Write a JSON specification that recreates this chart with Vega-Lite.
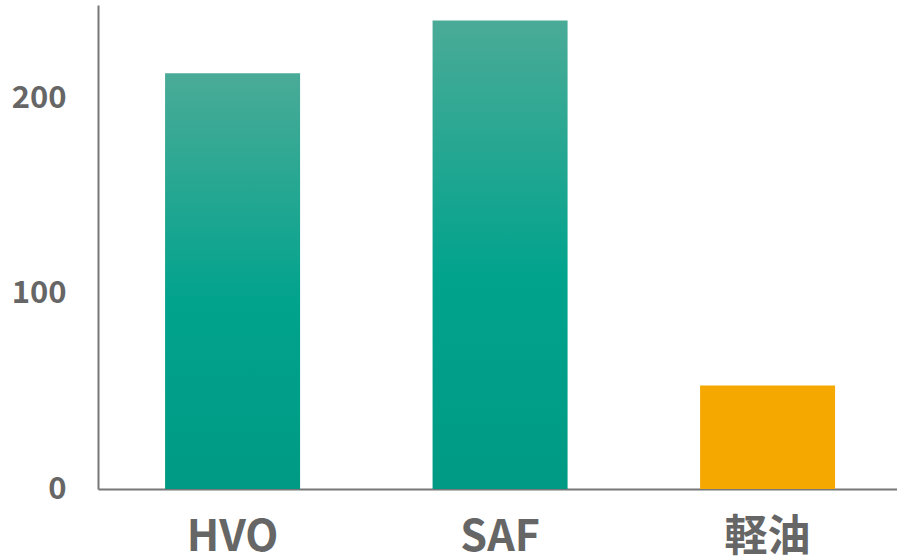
{
  "$schema": "https://vega.github.io/schema/vega-lite/v6.json",
  "autosize": "none",
  "width": 799,
  "height": 484,
  "padding": {"left": 98, "top": 5, "right": 0, "bottom": 70},
  "background": "white",
  "config": {"view": {"stroke": null}},
  "data": {"values": [
    {"fuel": "HVO", "value": 213},
    {"fuel": "SAF", "value": 240},
    {"fuel": "軽油", "value": 53}
  ]},
  "encoding": {
    "x": {
      "field": "fuel", "type": "nominal", "sort": ["HVO", "SAF", "軽油"],
      "scale": {"paddingInner": 0.4953, "paddingOuter": 0.2411, "align": 0.52},
      "axis": {
        "title": null, "labelAngle": 0, "ticks": false, "grid": false,
        "domainColor": "#777777", "domainWidth": 2,
        "labelFont": "Noto Sans CJK JP", "labelFontWeight": "bold", "labelFontSize": 43,
        "labelColor": "#666666", "labelPadding": 27
      }
    },
    "y": {
      "field": "value", "type": "quantitative",
      "scale": {"domain": [0, 248], "nice": false},
      "axis": {
        "title": null, "values": [0, 100, 200], "ticks": false, "grid": false,
        "domainColor": "#777777", "domainWidth": 2,
        "labelFont": "Noto Sans CJK JP", "labelFontWeight": "bold", "labelFontSize": 31,
        "labelColor": "#666666", "labelPadding": 32
      }
    }
  },
  "layer": [
    {
      "transform": [{"filter": "datum.fuel !== '軽油'"}],
      "mark": {
        "type": "bar",
        "color": {
          "gradient": "linear", "x1": 0, "y1": 0, "x2": 0, "y2": 1,
          "stops": [
            {"offset": 0, "color": "#4aab97"},
            {"offset": 0.55, "color": "#01a38d"},
            {"offset": 1, "color": "#009a84"}
          ]
        }
      }
    },
    {
      "transform": [{"filter": "datum.fuel === '軽油'"}],
      "mark": {"type": "bar", "color": "#f5a800"}
    }
  ]
}
